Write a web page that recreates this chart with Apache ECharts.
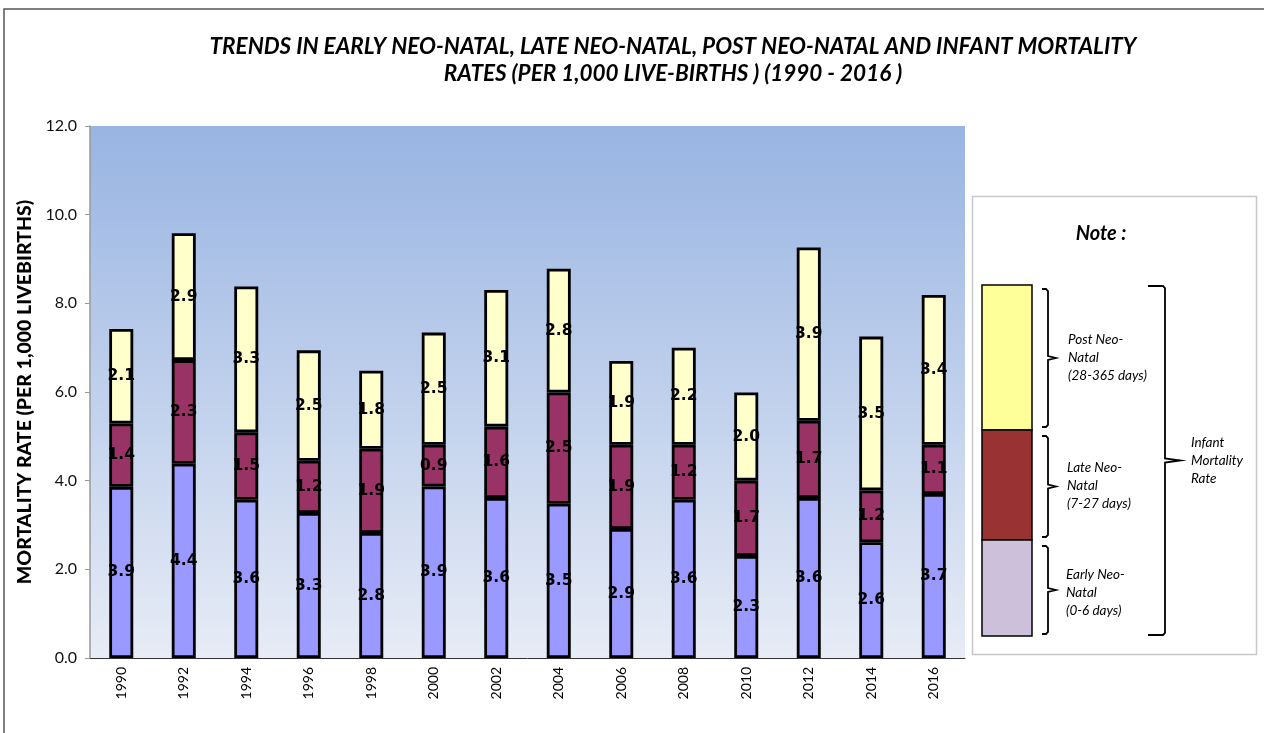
<!DOCTYPE html>
<html>
<head>
<meta charset="utf-8">
<script src="https://cdn.jsdelivr.net/npm/echarts@6/dist/echarts.min.js"></script>
<style>
html,body{margin:0;padding:0;background:#fff;}
#chart{width:1264px;height:733px;}
</style>
</head>
<body>
<div id="chart"></div>
<script>
const years = ['1990','1992','1994','1996','1998','2000','2002','2004','2006','2008','2010','2012','2014','2016'];
const earlyNeoNatal = [3.86, 4.38, 3.57, 3.27, 2.82, 3.87, 3.61, 3.48, 2.91, 3.57, 2.30, 3.61, 2.61, 3.70];
const lateNeoNatal  = [1.43, 2.34, 1.52, 1.18, 1.90, 0.94, 1.61, 2.51, 1.90, 1.24, 1.70, 1.74, 1.17, 1.11];
const postNeoNatal  = [2.13, 2.86, 3.29, 2.49, 1.76, 2.53, 3.08, 2.79, 1.89, 2.19, 1.99, 3.91, 3.47, 3.38];
const yTicks = [0, 2, 4, 6, 8, 10, 12];

const FONT = 'Lato, "Open Sans", sans-serif';
const chart = echarts.init(document.getElementById('chart'), null, {renderer: 'canvas'});

function barSeries(name, data, color) {
  return {
    name: name,
    type: 'bar',
    stack: 'imr',
    data: data,
    barWidth: 24,
    itemStyle: {color: color, borderColor: '#000', borderWidth: 2.8},
    label: {
      show: true,
      position: 'inside',
      color: '#000',
      fontFamily: '"DejaVu Sans", sans-serif',
      fontWeight: 'bold',
      fontSize: 15.5,
      formatter: p => p.value.toFixed(1)
    }
  };
}

const smallBracket = (x0, x1, xt, y0, y1) => {
  const ym = (y0 + y1) / 2;
  return {
    type: 'polyline',
    shape: {points: [[x0, y0], [x1 - 2, y0], [x1, y0 + 2], [x1, ym - 2], [xt, ym], [x1, ym + 2], [x1, y1 - 2], [x1 - 2, y1], [x0, y1]]},
    style: {stroke: '#000', lineWidth: 1.8, fill: null}
  };
};

const noteText = (x, y, text) => ({
  type: 'text', left: x, top: y,
  style: {text: text, font: 'italic 13.5px ' + FONT, fill: '#000', lineHeight: 18}
});

const option = {
  animation: false,
  backgroundColor: '#fff',
  grid: {
    left: 90, right: 299, top: 126, bottom: 75,
    show: true, borderWidth: 0,
    backgroundColor: new echarts.graphic.LinearGradient(0, 0, 0, 1, [
      {offset: 0, color: '#98b4e2'},
      {offset: 1, color: '#e7ecf6'}
    ])
  },
  xAxis: {
    type: 'category',
    data: years,
    axisLine: {lineStyle: {color: '#333', width: 1}},
    axisTick: {show: false},
    axisLabel: {rotate: 90, color: '#000', fontFamily: FONT, fontSize: 14, margin: 9}
  },
  yAxis: {
    type: 'value',
    min: yTicks[0], max: yTicks[yTicks.length - 1], interval: 2,
    name: 'MORTALITY RATE (PER 1,000 LIVEBIRTHS)',
    nameLocation: 'middle',
    nameGap: 48,
    nameTextStyle: {fontFamily: FONT, fontWeight: 900, fontSize: 19.5, color: '#000'},
    axisLine: {show: true, lineStyle: {color: '#999', width: 1.5}},
    axisTick: {show: true, length: 5, lineStyle: {color: '#999'}},
    splitLine: {show: false},
    axisLabel: {color: '#111', fontFamily: FONT, fontSize: 16, margin: 13, formatter: v => v.toFixed(1)}
  },
  series: [
    barSeries('Early Neo-Natal', earlyNeoNatal, '#9999ff'),
    barSeries('Late Neo-Natal', lateNeoNatal, '#993366'),
    barSeries('Post Neo-Natal', postNeoNatal, '#ffffcc')
  ],
  graphic: [
    {type: 'rect', shape: {x: 4, y: 9, width: 1400, height: 900}, style: {fill: null, stroke: '#555', lineWidth: 1.5}, silent: true, z: -1},
    {type: 'text', x: 673, y: 60,
     style: {text: 'TRENDS IN EARLY NEO-NATAL, LATE NEO-NATAL, POST NEO-NATAL AND INFANT MORTALITY\nRATES (PER 1,000 LIVE-BIRTHS ) (1990 - 2016 )',
       font: 'italic bold 22.5px ' + FONT, fill: '#000', align: 'center', verticalAlign: 'middle', lineHeight: 27}},
    {type: 'rect', shape: {x: 972.5, y: 196.5, width: 284, height: 458}, style: {fill: '#fff', stroke: '#c8c8c8', lineWidth: 1.5}},
    {type: 'text', x: 1101, y: 234, style: {text: 'Note :', font: 'italic bold 20px ' + FONT, fill: '#000', align: 'center', verticalAlign: 'middle'}},
    {type: 'rect', shape: {x: 982, y: 285, width: 50, height: 145}, style: {fill: '#ffff99', stroke: '#000', lineWidth: 1.5}},
    {type: 'rect', shape: {x: 982, y: 430, width: 50, height: 110}, style: {fill: '#993333', stroke: '#000', lineWidth: 1.5}},
    {type: 'rect', shape: {x: 982, y: 540, width: 50, height: 96}, style: {fill: '#ccc0da', stroke: '#000', lineWidth: 1.5}},
    smallBracket(1042, 1048, 1056, 289, 427),
    smallBracket(1042, 1048, 1056, 436, 537),
    smallBracket(1042, 1048, 1056, 546, 634),
    smallBracket(1148, 1165, 1180, 286, 635),
    noteText(1068, 331, 'Post Neo-\nNatal\n(28-365 days)'),
    noteText(1067, 459, 'Late Neo-\nNatal\n(7-27 days)'),
    noteText(1066, 566, 'Early Neo-\nNatal\n(0-6 days)'),
    noteText(1191, 434, 'Infant\nMortality\nRate')
  ]
};
chart.setOption(option);
</script>
</body>
</html>
